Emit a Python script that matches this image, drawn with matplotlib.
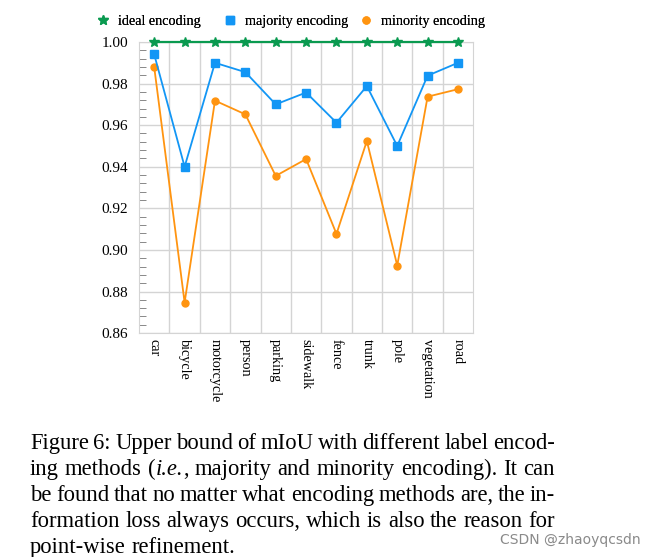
import matplotlib.pyplot as plt
from matplotlib.lines import Line2D
from matplotlib.ticker import MultipleLocator

# data
classes = ['car', 'bicycle', 'motorcycle', 'person', 'parking', 'sidewalk',
           'fence', 'trunk', 'pole', 'vegetation', 'road']
ideal = [1.0] * 11
majority = [0.994, 0.940, 0.990, 0.9855, 0.970, 0.9757, 0.9612, 0.9788, 0.950, 0.9838, 0.990]
minority = [0.9878, 0.8747, 0.9718, 0.9652, 0.9356, 0.9437, 0.9077, 0.9524, 0.8925, 0.9737, 0.9773]

# caption lines; parts wrapped in _..._ are italic
caption = [
    "Figure 6: Upper bound of mIoU with different label encod-",
    "ing methods (|_i.e._|, majority and minority encoding).  It can",
    "be found that no matter what encoding methods are, the in-",
    "formation loss always occurs, which is also the reason for",
    "point-wise refinement.",
]

plt.rcParams['font.family'] = ['Liberation Serif', 'DejaVu Serif']

green = '#0a9a50'
blue = '#1296f5'
orange = '#ff9410'
grid_c = '#d4d4d4'

fig = plt.figure(figsize=(6.59, 5.57), dpi=100)
ax = fig.add_axes([0.211, 0.402, 0.507, 0.5226])
x = list(range(len(classes)))

l1, = ax.plot(x, ideal, color=green, marker='*', markersize=7, lw=1.6, zorder=5, clip_on=False)
l2, = ax.plot(x, majority, color=blue, marker='s', markersize=5.5, lw=1.3, zorder=4)
l3, = ax.plot(x, minority, color=orange, marker='o', markersize=5, lw=1.3, zorder=3)

ax.set_xlim(-0.5, len(classes) - 0.5)
ax.set_ylim(0.86, 1.0)
ax.yaxis.set_major_locator(MultipleLocator(0.02))
ax.yaxis.set_minor_locator(MultipleLocator(0.004))
ax.yaxis.set_major_formatter(plt.FuncFormatter(lambda v, p: f'{v:.2f}'))
ax.set_xticks(x)
ax.set_xticklabels(classes, rotation=270, fontsize=10.2, va='top', ha='center')
ax.set_xticks([i + 0.5 for i in x[:-1]], minor=True)
ax.tick_params(axis='x', which='both', length=0, pad=4)
ax.tick_params(axis='y', which='major', length=0, labelsize=11, pad=8)
ax.tick_params(axis='y', which='minor', direction='in', length=5, color='#888888', width=0.7)
ax.grid(axis='y', which='major', color=grid_c, lw=1.0)
ax.grid(axis='x', which='minor', color=grid_c, lw=1.0)
for s in ax.spines.values():
    s.set_color(grid_c)

# legend entries placed one by one (uneven spacing as in the original)
entries = [(l1, 'ideal encoding', 103), (l2, 'majority encoding', 230), (l3, 'minority encoding', 366)]
for ln, lab, px in entries:
    h = Line2D([], [], color=ln.get_color(), marker=ln.get_marker(), markersize=ln.get_markersize(),
               linestyle='')
    lg = fig.legend([h], [lab], loc='center left', bbox_to_anchor=((px - 5) / 659, 1 - 21 / 557),
                    frameon=False, fontsize=10.2, handlelength=0.7, handletextpad=0.7,
                    borderpad=0, borderaxespad=0)
    fig.add_artist(lg)

# justified caption
fig.canvas.draw()
r = fig.canvas.get_renderer()
x0, x1 = 30 / 659, 555 / 659
fs = 16.3


def pieces(word):
    out = []
    for p in word.split('|'):
        if p.startswith('_') and p.endswith('_'):
            out.append((p[1:-1], 'italic'))
        elif p:
            out.append((p, 'normal'))
    return out


def width(txt, style):
    t = fig.text(0, 0, txt, fontsize=fs, style=style)
    w = t.get_window_extent(renderer=r).width / fig.bbox.width
    t.remove()
    return w


for i, line in enumerate(caption):
    yy = 1 - (449 + i * 26.0) / 557
    words = [pieces(w) for w in line.split(' ') if w != '']
    widths = [[width(t, s) for t, s in w] for w in words]
    if i == len(caption) - 1:
        gap = width('a a', 'normal') - 2 * width('a', 'normal')
    else:
        gap = (x1 - x0 - sum(sum(w) for w in widths)) / (len(words) - 1)
    xx = x0
    for w, wd in zip(words, widths):
        for (t, s), d in zip(w, wd):
            fig.text(xx, yy, t, fontsize=fs, style=s, va='baseline', ha='left')
            xx += d
        xx += gap

fig.text(0.972, 1 - 540 / 557, 'CSDN @zhaoyqcsdn', fontsize=10, color='#8a8a8a',
         family=['DejaVu Sans'], ha='right', va='center')

fig.savefig('out.png', dpi=100)
